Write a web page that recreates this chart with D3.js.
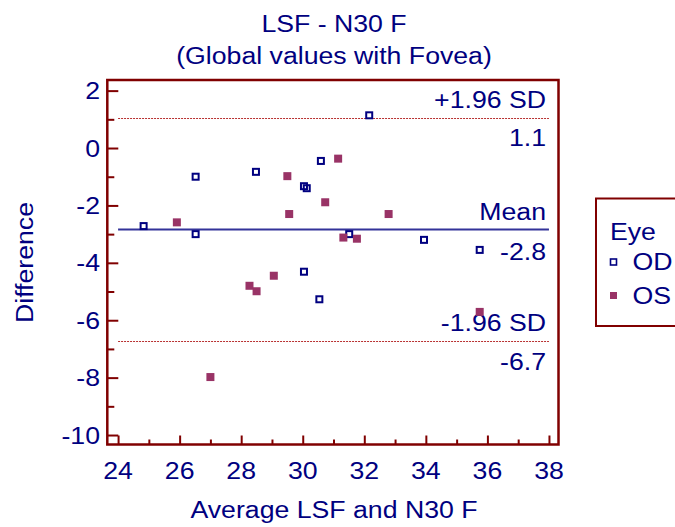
<!DOCTYPE html>
<html>
<head>
<meta charset="utf-8">
<script src="https://cdn.jsdelivr.net/npm/d3@7"></script>
<style>
  html, body { margin: 0; padding: 0; background: #fff; }
  svg { display: block; }
  text { font-family: "Liberation Sans", Arial, sans-serif; fill: #000080; }
</style>
</head>
<body>
<script>
// Bland-Altman data: mean of the two methods (x) against their difference (y)
const odAverage = [24.83, 26.52, 26.52, 28.48, 30.04, 30.13, 30.59, 32.16, 31.51, 33.94, 35.75, 30.04, 30.54];
const odDifference = [-2.72, -1.00, -3.00, -0.83, -1.33, -1.40, -0.45, 1.14, -3.00, -3.20, -3.55, -4.31, -5.27];
const osAverage = [25.91, 29.50, 29.56, 31.15, 30.73, 31.32, 32.79, 31.76, 28.27, 28.50, 29.06, 35.75, 27.00];
const osDifference = [-2.59, -0.98, -2.30, -0.37, -1.89, -3.12, -2.30, -3.16, -4.80, -4.99, -4.45, -5.71, -7.98];

// Reference lines: mean difference and limits of agreement
const meanDiff = -2.84;
const upperLimit = 1.06;
const lowerLimit = -6.74;

const xTicks = [24, 26, 28, 30, 32, 34, 36, 38];
const yTicks = [2, 0, -2, -4, -6, -8, -10];
const eyeGroups = ["OD", "OS"];

const W = 675, H = 527;
const plotL = 107.3, plotR = 558.5, plotT = 80, plotB = 444.5;
const FS = 23, SX = 1.16;
const navy = "#000080", maroon = "#800000", osColor = "#993366";

// Plain hyphen for negative numbers
const locale = d3.formatLocale({ decimal: ".", thousands: ",", grouping: [3], currency: ["", ""], minus: "-" });
const fmtInt = locale.format("d");
const fmt1 = locale.format(".1f");

const svg = d3.select("body").append("svg").attr("width", W).attr("height", H);

const x = d3.scaleLinear().domain([23.65, 38.31]).range([plotL, plotR]);
const y = d3.scaleLinear().domain([-10.33, 2.37]).range([plotB, plotT]);

// Wide-set text helper: horizontal stretch applied in the text's own frame
function label(g, str, px, py, anchor, rot) {
  const r = rot ? ` rotate(${rot})` : "";
  return g.append("text")
    .attr("transform", `translate(${px},${py})${r} scale(${SX},1)`)
    .attr("text-anchor", anchor)
    .attr("font-size", FS)
    .text(str);
}

// Titles
label(svg, "LSF - N30 F", 334, 31.5, "middle");
label(svg, "(Global values with Fovea)", 334, 63.5, "middle");

// Axis titles
label(svg, "Average LSF and N30 F", 334, 517.5, "middle");
label(svg, "Difference", 33, 262.5, "middle", -90);

// Ticks, drawn inward from the frame
const xMinor = d3.range(25, 38, 2);
const yMinor = d3.range(1, -10, -2);
const styleAxis = g => {
  g.select(".domain").remove();
  g.selectAll("line").attr("stroke", maroon).attr("stroke-width", 2);
  g.selectAll("text").remove();
};
svg.append("g").attr("transform", `translate(0,${plotB})`)
  .call(d3.axisBottom(x).tickValues(xTicks).tickSize(-9)).call(styleAxis);
svg.append("g").attr("transform", `translate(0,${plotB})`)
  .call(d3.axisBottom(x).tickValues(xMinor).tickSize(-5)).call(styleAxis);
svg.append("g").attr("transform", `translate(${plotL},0)`)
  .call(d3.axisLeft(y).tickValues(yTicks).tickSize(-11)).call(styleAxis);
svg.append("g").attr("transform", `translate(${plotL},0)`)
  .call(d3.axisLeft(y).tickValues(yMinor).tickSize(-7)).call(styleAxis);

// Tick labels
xTicks.forEach(v => label(svg, fmtInt(v), x(v), 479, "middle"));
yTicks.forEach(v => label(svg, fmtInt(v), 100, y(v) + 8.5, "end"));

// Limits of agreement (snapped to the pixel grid so the dots stay crisp)
const plot = svg.append("g");
[upperLimit, lowerLimit].forEach(v => {
  const py = Math.round(y(v)) + 0.5;
  plot.append("line")
    .attr("x1", x(24)).attr("x2", x(38))
    .attr("y1", py).attr("y2", py)
    .attr("stroke", "#b83030").attr("stroke-width", 1)
    .attr("stroke-dasharray", "2,1");
});
plot.append("line")
  .attr("x1", x(24)).attr("x2", x(38))
  .attr("y1", y(meanDiff)).attr("y2", y(meanDiff))
  .attr("stroke", "#333399").attr("stroke-width", 2);

const labX = 546;
label(plot, "+1.96 SD", labX, y(upperLimit) - 9.5, "end");
label(plot, fmt1(upperLimit), labX, y(upperLimit) + 28, "end");
label(plot, "Mean", labX, y(meanDiff) - 9.5, "end");
label(plot, fmt1(meanDiff), labX, y(meanDiff) + 30, "end");
label(plot, "-1.96 SD", labX, y(lowerLimit) - 10, "end");
label(plot, fmt1(lowerLimit), labX, y(lowerLimit) + 29, "end");

// Points
const od = odAverage.map((a, i) => ({ a, d: odDifference[i] }));
const os = osAverage.map((a, i) => ({ a, d: osDifference[i] }));
plot.selectAll(".od").data(od).join("rect").attr("class", "od")
  .attr("x", p => x(p.a) - 3).attr("y", p => y(p.d) - 3)
  .attr("width", 6).attr("height", 6)
  .attr("fill", "none").attr("stroke", navy).attr("stroke-width", 2);
plot.selectAll(".os").data(os).join("rect").attr("class", "os")
  .attr("x", p => x(p.a) - 4).attr("y", p => y(p.d) - 4)
  .attr("width", 8).attr("height", 8)
  .attr("fill", osColor);

// Frame
svg.append("rect")
  .attr("x", plotL).attr("y", plotT)
  .attr("width", plotR - plotL).attr("height", plotB - plotT)
  .attr("fill", "none").attr("stroke", maroon).attr("stroke-width", 2.5);

// Legend
const leg = svg.append("g");
leg.append("rect").attr("x", 596).attr("y", 198.5).attr("width", 110).attr("height", 127.5)
  .attr("fill", "none").attr("stroke", maroon).attr("stroke-width", 2);
label(leg, "Eye", 610, 239.5, "start");
eyeGroups.forEach((k, i) => {
  const cy = 262 + i * 33.5;
  if (k === "OD") {
    leg.append("rect").attr("x", 610.5).attr("y", cy - 3).attr("width", 6).attr("height", 6)
      .attr("fill", "none").attr("stroke", navy).attr("stroke-width", 1.6);
  } else {
    leg.append("rect").attr("x", 610).attr("y", cy - 3.5).attr("width", 7).attr("height", 7)
      .attr("fill", osColor);
  }
  label(leg, k, 632.5, cy + 8, "start");
});
</script>
</body>
</html>
